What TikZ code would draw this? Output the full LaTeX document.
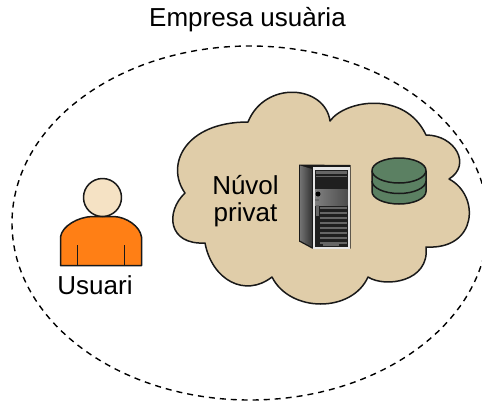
\documentclass[tikz,border=0pt]{standalone}
\usepackage{fontspec}
\setmainfont{Liberation Sans}
\usetikzlibrary{positioning}
\definecolor{cloudfill}{HTML}{E0CDA9}
\definecolor{diskfill}{HTML}{5B8062}
\definecolor{shirtfill}{HTML}{FF7F15}
\definecolor{headfill}{HTML}{F5E2C4}
\tikzset{
    label text/.style={font=\fontsize{26}{31}\selectfont, inner sep=0pt, align=center},
    outline/.style={draw=black!90, line width=1.5pt, line join=round}
}
\begin{document}
\begin{tikzpicture}[x=1pt, y=-1pt]
    \useasboundingbox (0,0) rectangle (482,405);
    \clip (0,0) rectangle (482,405);
    \draw[line width=1.4pt, dash pattern=on 6pt off 5pt] (250,223) ellipse [x radius=238, y radius=177];
    \node[label text] (company) at (247.5,20) {Empresa usuària};

    \draw[outline, fill=cloudfill] (330,121)
        .. controls (345,100) and (405,90) .. (426,135)
        .. controls (455,135) and (472,165) .. (449,179)
        .. controls (480,195) and (478,250) .. (426,247)
        .. controls (430,282) and (385,288) .. (368,277)
        .. controls (352,313) and (290,313) .. (272,277)
        .. controls (245,298) and (212,280) .. (205,243)
        .. controls (168,245) and (165,212) .. (185,193)
        .. controls (165,165) and (185,122) .. (248,122)
        .. controls (265,80) and (325,85) .. (330,121) -- cycle;
    \node[label text, anchor=center] (cloudname) at (245.5,201) {Núvol\\[-4pt]privat};

    \fill[black!90] (299,164.5) -- (350.5,165) -- (350.5,248.5) -- (312,248.5) -- (299,241.5) -- cycle;
    \shade[left color=black!55, right color=black!80] (300,165.5) -- (312,169) -- (312,247) -- (300,240.5) -- cycle;
    \fill[black!10] (312.5,166.5) rectangle (350,248.5);
    \fill[black!88] (314.5,169.5) rectangle (348,247);
    \fill[black!60] (316,170.5) rectangle (346.5,173.5);
    \fill[black!60] (316,175.5) rectangle (346.5,176.5);
    \shade[left color=black!50, right color=black!70] (315,189) rectangle (347.5,205);
    \fill[black] (318,194) circle (2.5);
    \fill[black!60] (315,199) rectangle (319,201);
    \fill[black!60] (315.5,205) rectangle (319,216);
    \foreach \ypos in {207,212,217,222,227,232,237,242} {
        \fill[black!60] (320,\ypos) rectangle (347,\ypos+1.5);
    }
    \fill[black!60] (323,243.5) rectangle (339,246);

    \draw[outline, fill=diskfill] (372,170.5) -- (372,191.5) arc [start angle=180, end angle=360, x radius=27, y radius=-12.5] -- (426,170.5);
    \draw[outline, fill=diskfill] (399,170.5) ellipse [x radius=27, y radius=12.5];
    \draw[outline] (372,181) arc [start angle=180, end angle=360, x radius=27, y radius=-12.5];

    \draw[outline, fill=shirtfill] (60.5,265.5) -- (60.5,237)
        .. controls (62,226) and (78,217) .. (92,216.5)
        -- (114,216.5)
        .. controls (126,217) and (140,226) .. (141.5,237)
        -- (141.5,265.5) -- cycle;
    \draw[outline] (77.5,245) -- (77.5,265.5);
    \draw[outline] (124.5,245) -- (124.5,265.5);
    \draw[outline, fill=headfill] (102.5,197.5) circle (19);
    \node[label text] (user) at (95,285.5) {Usuari};
\end{tikzpicture}
\end{document}
